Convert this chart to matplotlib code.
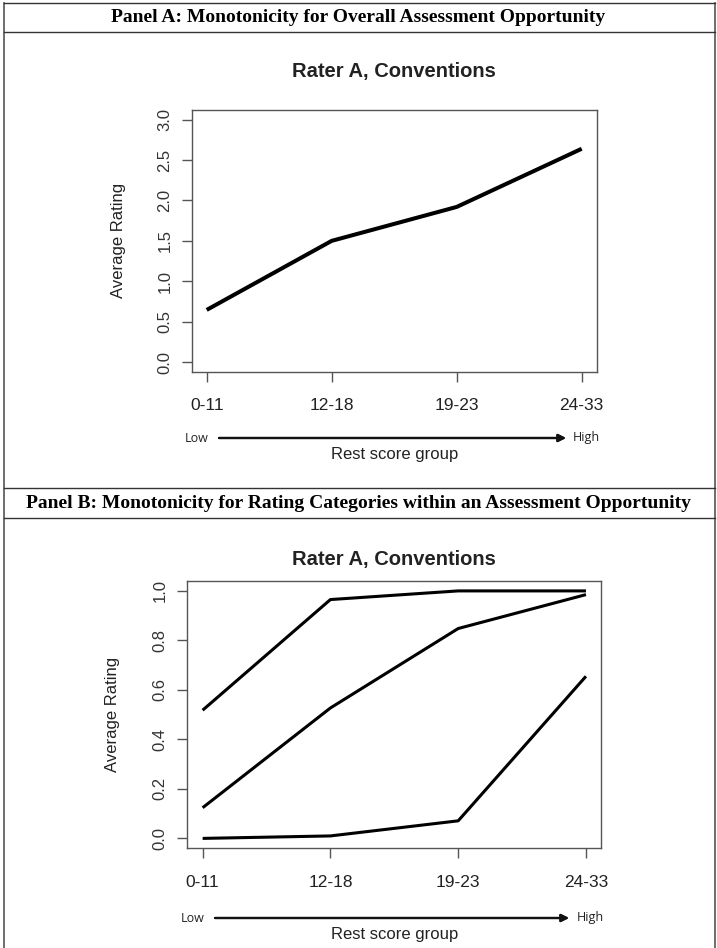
import matplotlib.pyplot as plt
from matplotlib.lines import Line2D

# data
groups = ['0-11', '12-18', '19-23', '24-33']
overall_rating = [0.645, 1.50, 1.92, 2.64]
category_ratings = [
    [0.518, 0.965, 1.0, 1.0],
    [0.124, 0.527, 0.848, 0.985],
    [0.0, 0.01, 0.071, 0.655],
]
panel_titles = ['Panel A: Monotonicity for Overall Assessment Opportunity',
                'Panel B: Monotonicity for Rating Categories within an Assessment Opportunity']
chart_title = 'Rater A, Conventions'

W, H = 717, 948
fig = plt.figure(figsize=(W / 100, H / 100), dpi=100)


def fx(x):
    return x / W


def fy(y):
    return 1 - y / H


def hline(y, x0=4, x1=715, lw=1.0, color='#333333'):
    fig.add_artist(Line2D([fx(x0), fx(x1)], [fy(y), fy(y)], lw=lw, color=color))


def make_axes(left, top, right, bottom):
    return fig.add_axes([fx(left), fy(bottom), (right - left) / W, (bottom - top) / H])


def style_axes(ax, ylim, yticks):
    xs = range(1, len(groups) + 1)
    ax.set_xlim(0.88, 4.12)
    ax.set_ylim(*ylim)
    ax.set_xticks(list(xs))
    ax.set_xticklabels(groups, fontsize=12.5, family='Liberation Sans', color='#222222')
    ax.set_yticks(yticks)
    ax.set_yticklabels(['%.1f' % t for t in yticks], rotation=90, va='center',
                       fontsize=12, family='Liberation Sans', color='#333333')
    for s in ax.spines.values():
        s.set_color('#555555')
        s.set_linewidth(1.0)
    ax.tick_params(direction='out', length=7, width=1.0, color='#555555')
    ax.tick_params(axis='x', pad=12)
    ax.tick_params(axis='y', pad=7)


def axis_annotations(ax, title_y, arrow_y, label_y, ylab_x, lowx, highx, a0, a1):
    pos = ax.get_position()
    cx = (pos.x0 + pos.x1) / 2
    cy = (pos.y0 + pos.y1) / 2
    fig.text(cx, fy(title_y), chart_title, ha='center', va='center', fontsize=14.5,
             fontweight='bold', family='Liberation Sans', color='#222222')
    fig.text(fx(ylab_x), cy, 'Average Rating', rotation=90, ha='center', va='center',
             fontsize=12, family='Liberation Sans', color='#222222')
    fig.text(cx, fy(label_y), 'Rest score group', ha='center', va='center', fontsize=12,
             family='Liberation Sans', color='#222222')
    fig.text(fx(lowx), fy(arrow_y), 'Low', ha='center', va='center', fontsize=9,
             family='Open Sans', color='#222222')
    fig.text(fx(highx), fy(arrow_y), 'High', ha='center', va='center', fontsize=9,
             family='Open Sans', color='#222222')
    fig.add_artist(plt.annotate('', xy=(fx(a1), fy(arrow_y)), xytext=(fx(a0), fy(arrow_y)),
                                xycoords='figure fraction', textcoords='figure fraction',
                                arrowprops=dict(arrowstyle='-|>', lw=1.6, color='#111111',
                                                mutation_scale=11, shrinkA=0, shrinkB=0)))


# table frame
fig.add_artist(Line2D([fx(4), fx(4)], [fy(3), fy(948)], lw=1.2, color='#555555'))
fig.add_artist(Line2D([fx(715), fx(715)], [fy(3), fy(948)], lw=1.2, color='#555555'))
hline(3)
hline(32)
hline(488)
hline(518)

fig.text(0.5, fy(17.5), panel_titles[0], ha='center', va='center', fontsize=14,
         fontweight='bold', family='Liberation Serif')
fig.text(0.5, fy(503), panel_titles[1], ha='center', va='center', fontsize=14,
         fontweight='bold', family='Liberation Serif')

# Panel A
axA = make_axes(191.7, 110, 596.7, 371.7)
axA.plot(range(1, 5), overall_rating, color='black', lw=2.9, solid_capstyle='butt')
style_axes(axA, (-0.12, 3.12), [0.0, 0.5, 1.0, 1.5, 2.0, 2.5, 3.0])
axis_annotations(axA, 72, 438, 454, 118, 197, 586, 219, 566)

# Panel B
axB = make_axes(187.3, 581, 601.3, 848.3)
for r in category_ratings:
    axB.plot(range(1, 5), r, color='black', lw=2.2, solid_capstyle='butt')
style_axes(axB, (-0.04, 1.04), [0.0, 0.2, 0.4, 0.6, 0.8, 1.0])
axis_annotations(axB, 560, 918, 934, 113, 193, 590, 215, 569)

fig.savefig('out.png', dpi=100)
